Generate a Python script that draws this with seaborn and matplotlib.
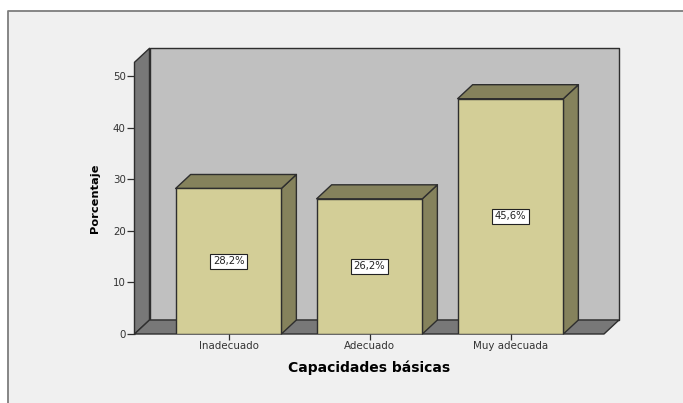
# Capacidades basicas - SPSS style 3D bars
import matplotlib
matplotlib.use('Agg')
import matplotlib.pyplot as plt
from matplotlib.patches import Polygon, Rectangle
import seaborn as sns
import pandas as pd

categorias = ['Inadecuado', 'Adecuado', 'Muy adecuada']
porcentajes = [28.2, 26.2, 45.6]
etiquetas = ['28,2%', '26,2%', '45,6%']
ticks_y = [0, 10, 20, 30, 40, 50]

W, H = 683, 403
LINE = '#2e2e2e'

sns.set_theme(style='white')
plt.rcParams['font.family'] = ['DejaVu Sans']

fig = plt.figure(figsize=(W / 100, H / 100), dpi=100, facecolor='white')

# grey panel with the frame on the left and top only
fig.add_artist(Rectangle((8 / W, 0), 1, 1 - 11 / H, transform=fig.transFigure,
                         facecolor='#f0f0f0', edgecolor='none', zorder=-5))
fig.add_artist(plt.Line2D([8 / W, 8 / W, 1], [0, 1 - 11 / H, 1 - 11 / H],
                          transform=fig.transFigure, color='#7d7d7d', lw=1.3, zorder=-4))

# front plane of the box, in pixels
x0, x1 = 134.5, 604
y0, ytop = 334, 62.3
ax = fig.add_axes([x0 / W, 1 - y0 / H, (x1 - x0) / W, (y0 - ytop) / H])
ax.patch.set_alpha(0)

df = pd.DataFrame({'cat': categorias, 'pct': porcentajes})
sns.barplot(data=df, x='cat', y='pct', ax=ax, color='#d3ce97', saturation=1,
            width=0.75, edgecolor=LINE, linewidth=1.0, zorder=5)

# scales: 141 px between the bars, 5.16 px per percent
px_x = 141
px_y = 5.16
ax.set_xlim(-(228.5 - x0) / px_x, (x1 - 228.5) / px_x)
ax.set_ylim(0, (y0 - ytop) / px_y)
dx = 15 / px_x
dy = 14 / px_y
xa, xb = ax.get_xlim()
yt = ax.get_ylim()[1]


def cara(puntos, color, z):
    ax.add_patch(Polygon(puntos, closed=True, facecolor=color, edgecolor=LINE,
                         linewidth=1.0, zorder=z, clip_on=False, joinstyle='round'))


barras = list(ax.patches)[:len(categorias)]

# walls and floor
cara([(xa + dx, dy), (xb + dx, dy), (xb + dx, yt + dy), (xa + dx, yt + dy)], '#c0c0c0', 1)
cara([(xa, 0), (xa + dx, dy), (xa + dx, yt + dy), (xa, yt)], '#787878', 2)
cara([(xa, 0), (xb, 0), (xb + dx, dy), (xa + dx, dy)], '#787878', 2)

# depth of each bar, taken from the bars seaborn drew
for barra, texto in zip(barras, etiquetas):
    left = barra.get_x()
    right = left + barra.get_width()
    alto = barra.get_height()
    cara([(right, 0), (right + dx, dy), (right + dx, alto + dy), (right, alto)], '#85825c', 4)
    cara([(left, alto), (right, alto), (right + dx, alto + dy), (left + dx, alto + dy)], '#85825c', 4)
    ax.text(left + barra.get_width() / 2, alto / 2, texto, ha='center', va='center',
            fontsize=7.2, color='#222222', zorder=8,
            bbox=dict(boxstyle='square,pad=0.25', facecolor='white', edgecolor='#222222', linewidth=0.8))

sns.despine(ax=ax, left=True, bottom=True, top=True, right=True)
ax.set_yticks(ticks_y)
ax.tick_params(axis='y', length=5.8, width=0.9, color=LINE, labelsize=7.4, labelcolor='#333333', pad=0.5, left=True)
ax.tick_params(axis='x', length=4.3, width=0.9, color=LINE, labelsize=7.4, labelcolor='#333333', pad=0.5, bottom=True)
ax.set_xlabel('Capacidades básicas', fontsize=10, fontweight='bold', color='black', labelpad=7)
ax.set_ylabel('Porcentaje', fontsize=8.2, fontweight='bold', color='black', labelpad=9)
ax.grid(False)

fig.savefig('out.png', dpi=100, facecolor='white')
